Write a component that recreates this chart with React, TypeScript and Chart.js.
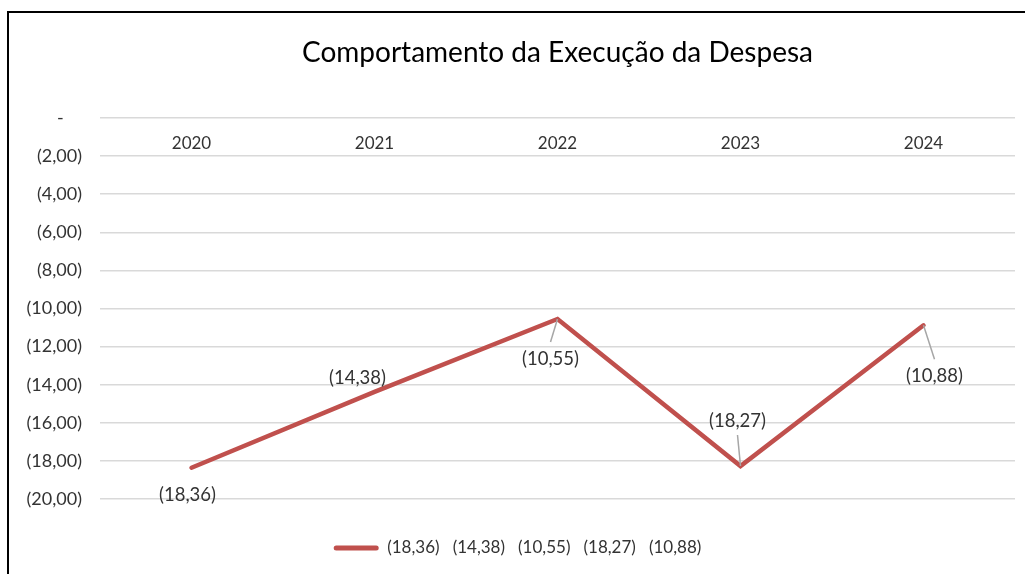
import React, { useEffect, useRef } from "react";
import { Chart, registerables } from "chart.js";

Chart.register(...registerables);

const chartTitle = "Comportamento da Execução da Despesa";
const categories = ["2020", "2021", "2022", "2023", "2024"];
const seriesValues = [-18.36, -14.38, -10.55, -18.27, -10.88];
const seriesName = "(18,36)   (14,38)   (10,55)   (18,27)   (10,88)";
const yMin = -20;
const yMax = 0;
const yStep = 2;

// label placement relative to each point: [dx, dy, leader]
const labelOffsets: [number, number, boolean][] = [
  [-4, 27, false],
  [-17, -14, false],
  [-7, 40, true],
  [-3, -45, true],
  [11, 51, true],
];

const FONT = "Lato, 'Open Sans', sans-serif";
const RED = "#C0504D";
const TXT = "#333333";

function fmt(v: number): string {
  if (Math.abs(v) < 1e-9) return "-    ";
  return "(" + Math.abs(v).toFixed(2).replace(".", ",") + ")";
}

const labelPlugin = {
  id: "dataLabels",
  afterDatasetsDraw(chart: any) {
    const ctx = chart.ctx;
    const meta = chart.getDatasetMeta(0);
    ctx.save();
    ctx.font = `18.5px ${FONT}`;
    ctx.fillStyle = TXT;
    ctx.textAlign = "center";
    ctx.textBaseline = "middle";
    meta.data.forEach((pt: any, i: number) => {
      const [dx, dy, leader] = labelOffsets[i];
      const lx = pt.x + dx;
      const ly = pt.y + dy;
      if (leader) {
        const ey = dy > 0 ? ly - 17 : ly + 14;
        ctx.strokeStyle = "#A6A6A6";
        ctx.lineWidth = 1.5;
        ctx.beginPath();
        ctx.moveTo(pt.x, pt.y);
        ctx.lineTo(lx, ey);
        ctx.stroke();
      }
      ctx.fillText(fmt(seriesValues[i]), lx, ly);
    });
    ctx.restore();
  },
};

const framePlugin = {
  id: "frame",
  beforeDraw(chart: any) {
    const ctx = chart.ctx;
    ctx.save();
    ctx.fillStyle = "#ffffff";
    ctx.fillRect(0, 0, chart.width, chart.height);
    ctx.restore();
  },
  afterDraw(chart: any) {
    const ctx = chart.ctx;
    ctx.save();
    ctx.strokeStyle = "#000000";
    ctx.lineWidth = 2;
    ctx.beginPath();
    ctx.moveTo(8, chart.height);
    ctx.lineTo(8, 12);
    ctx.lineTo(chart.width, 12);
    ctx.stroke();
    ctx.restore();
  },
};

export default function App() {
  const ref = useRef<HTMLCanvasElement | null>(null);
  useEffect(() => {
    if (!ref.current) return;
    const chart = new Chart(ref.current, {
      type: "line",
      data: {
        labels: categories,
        datasets: [
          {
            label: seriesName,
            data: seriesValues,
            borderColor: RED,
            backgroundColor: RED,
            borderWidth: 4.5,
            pointRadius: 0,
            tension: 0,
            borderCapStyle: "round",
            borderJoinStyle: "miter",
          },
        ],
      },
      options: {
        animation: false,
        responsive: false,
        maintainAspectRatio: false,
        layout: { padding: { left: 20, right: 10, top: 0, bottom: 7.5 } },
        plugins: {
          title: {
            display: true,
            fullSize: false,
            text: chartTitle,
            color: "#000000",
            font: { family: FONT, size: 28, weight: "normal" },
            padding: { top: 36.2, bottom: 48.2 },
          },
          legend: {
            display: true,
            position: "bottom",
            labels: {
              color: TXT,
              font: { family: FONT, size: 17 },
              boxWidth: 45,
              boxHeight: 5,
              padding: 40.5,
              useBorderRadius: true,
              borderRadius: 2.5,
              generateLabels: (c: any) =>
                c.data.datasets.map((d: any, i: number) => ({
                  text: d.label,
                  fillStyle: RED,
                  strokeStyle: RED,
                  lineWidth: 0,
                  datasetIndex: i,
                  fontColor: TXT,
                  borderRadius: 2.5,
                })),
            },
          },
          tooltip: { enabled: false },
        },
        scales: {
          x: {
            type: "category",
            position: { y: 0 } as any,
            offset: true,
            grid: { display: false },
            border: { display: false },
            ticks: {
              color: TXT,
              font: { family: FONT, size: 17 },
              padding: 7,
              maxRotation: 0,
            },
          },
          y: {
            min: yMin,
            max: yMax,
            afterFit: (s: any) => {
              s.width = 80;
            },
            grid: { color: "#D9D9D9", lineWidth: 1.5, drawTicks: false },
            border: { display: false },
            ticks: {
              stepSize: yStep,
              color: TXT,
              font: { family: FONT, size: 18 },
              padding: 18,
              callback: (v: any) => fmt(Number(v)),
            },
          },
        },
      },
      plugins: [framePlugin, labelPlugin],
    });
    return () => chart.destroy();
  }, []);
  return (
    <div style={{ position: "fixed", left: 0, top: 0, width: 1025, height: 574 }}>
      <canvas ref={ref} width={1025} height={574} style={{ width: 1025, height: 574, display: "block" }} />
    </div>
  );
}
